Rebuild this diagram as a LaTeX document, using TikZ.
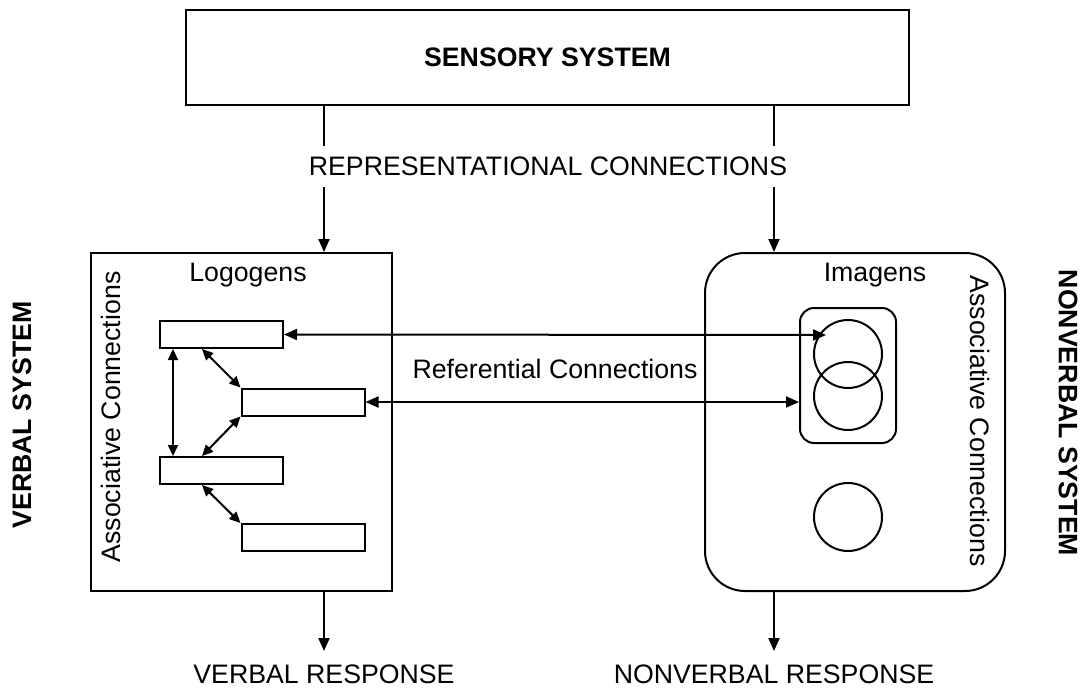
\documentclass[tikz,border=0pt]{standalone}
\usepackage{fontspec}
\setmainfont{Liberation Sans}
\usetikzlibrary{arrows.meta,calc}
\tikzset{
  every node/.style={font=\fontsize{26.7}{32}\selectfont},
  ln/.style={line width=2pt, line cap=butt},
  box/.style={draw, line width=2pt, inner sep=0pt},
  rbox/.style={draw, line width=2pt, inner sep=0pt, rounded corners=40pt},
  ibox/.style={draw, line width=2pt, inner sep=0pt, rounded corners=14pt},
  ring/.style={draw, circle, line width=2pt, inner sep=0pt, minimum size=68pt},
  word/.style={draw, line width=2pt, inner sep=0pt, minimum width=123pt, minimum height=27pt},
  arr/.style={ln, -{Triangle[length=13pt,width=11pt]}},
  darr/.style={ln, {Triangle[length=13pt,width=11pt]}-{Triangle[length=13pt,width=11pt]}},
  sarr/.style={ln, {Triangle[length=11pt,width=10pt]}-{Triangle[length=11pt,width=10pt]}},
  lbl/.style={inner sep=0pt}
}
\begin{document}
\begin{tikzpicture}[x=1pt,y=-1pt]
\useasboundingbox (0,0) rectangle (1088,694);
% main boxes
\node[box, minimum width=723pt, minimum height=95pt] (sens) at (547.5,57.5) {\bfseries SENSORY SYSTEM};
\node[box, minimum width=301pt, minimum height=338pt] (logbox) at (241.5,422) {};
\node[rbox, minimum width=300pt, minimum height=338pt] (imgbox) at (855,422) {};
% column coordinates
\coordinate (cl) at (324,0);
\coordinate (cr) at (774,0);
% representational label
\node[lbl, fill=white, minimum height=41pt] (rep) at (548,166.5) {REPRESENTATIONAL CONNECTIONS};
\draw[ln] (sens.south -| cl) -- (rep.north -| cl);
\draw[ln] (sens.south -| cr) -- (rep.north -| cr);
\draw[arr] (rep.south -| cl) -- (logbox.north -| cl);
\draw[arr] (rep.south -| cr) -- (imgbox.north -| cr);
% titles
\node (logo) at (248,275) {Logogens};
\node (imag) at (875,275) {Imagens};
\node[rotate=90] (acl) at (111,417) {Associative Connections};
\node[rotate=-90] (acr) at (980,421) {Associative Connections};
\node[rotate=90] (vs) at (22,415) {\bfseries VERBAL SYSTEM};
\node[rotate=-90] (nvs) at (1068,413) {\bfseries NONVERBAL SYSTEM};
% logogens
\node[word] (r1) at (221.5,334.5) {};
\node[word] (r2) at (303,402) {};
\node[word] (r3) at (221.5,470.5) {};
\node[word] (r4) at (303,537.5) {};
\draw[sarr] ([xshift=-48.5pt]r1.south) -- ([xshift=-48.5pt]r3.north);
\draw[sarr] ([xshift=-19.5pt]r1.south) -- (r2.north west);
\draw[sarr] ([xshift=-19.5pt]r3.north) -- (r2.south west);
\draw[sarr] ([xshift=-19.5pt]r3.south) -- (r4.north west);
% imagens
\node[ibox, minimum width=96pt, minimum height=135pt] (inner) at (848,375.5) {};
\node[ring] (c1) at (848,354) {};
\node[ring] (c2) at (848,396) {};
\node[ring] (c3) at (848,517) {};
% referential
\coordinate (reftip) at (826,335);
\draw[darr] (r1.east) -- (reftip);
\draw[darr] (r2.east) -- (r2.east -| inner.west);
\node (refl) at (555,369) {Referential Connections};
% responses
\node[lbl, anchor=north, inner ysep=14pt] (vresp) at (324,651) {VERBAL RESPONSE};
\node[lbl, anchor=north, inner ysep=14pt] (nresp) at (774,651) {NONVERBAL RESPONSE};
\draw[arr] (logbox.south -| vresp.north) -- (vresp.north);
\draw[arr] (imgbox.south -| nresp.north) -- (nresp.north);
\end{tikzpicture}
\end{document}
